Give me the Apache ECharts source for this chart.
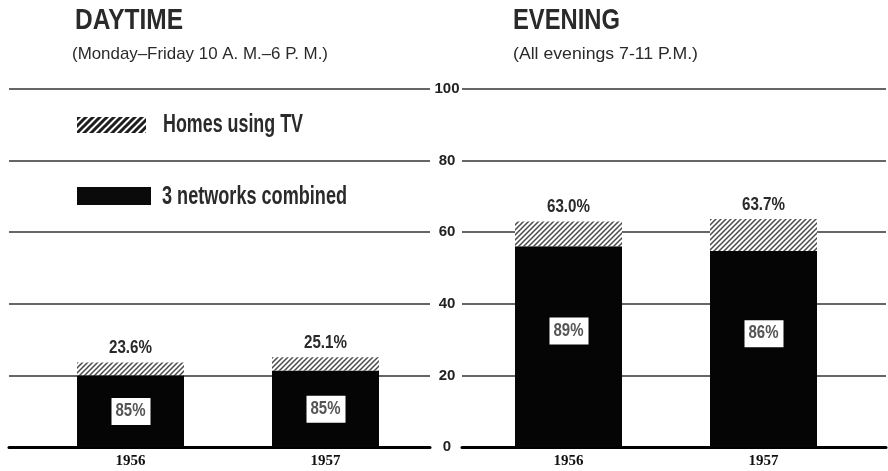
<!DOCTYPE html>
<html>
<head>
<meta charset="utf-8">
<script src="https://cdn.jsdelivr.net/npm/echarts@6/dist/echarts.min.js"></script>
<style>
  html, body { margin: 0; padding: 0; background: #fff; }
  #chart { width: 888px; height: 471px; }
</style>
</head>
<body>
<div id="chart"></div>
<script>
// Share of homes using TV, and the part of that audience tuned to the three networks
const years = ['1956', '1957'];
const dayHomesUsingTV = [23.6, 25.1];
const dayNetworkShare = [85, 85];
const eveHomesUsingTV = [63.0, 63.7];
const eveNetworkShare = [89, 86];
const yTicks = [0, 20, 40, 60, 80, 100];

const SANS = "'Liberation Sans', Arial, sans-serif";
const SERIF = "'Liberation Serif', 'DejaVu Serif', serif";
const INK = '#2a2a2a';

// Diagonal hatch tiles: fine one for the bars, a heavier one for the key
function hatchPattern(size, width, color) {
  const c = document.createElement('canvas');
  c.width = size; c.height = size;
  const g = c.getContext('2d');
  g.fillStyle = '#ffffff';
  g.fillRect(0, 0, size, size);
  g.strokeStyle = color;
  g.lineWidth = width;
  g.beginPath();
  g.moveTo(-1, size + 1); g.lineTo(size + 1, -1);
  g.moveTo(-2, 2); g.lineTo(2, -2);
  g.moveTo(size - 2, size + 2); g.lineTo(size + 2, size - 2);
  g.stroke();
  return { image: c, repeat: 'repeat' };
}
const HATCH = hatchPattern(5, 1.5, '#4a4a4a');
const HATCH_KEY = hatchPattern(7, 3, '#1e1e1e');

// Condensed lettering: squeeze a regular face horizontally to a given width
const measureCtx = document.createElement('canvas').getContext('2d');
function squeezed(text, px, weight, width, x, y, align, fill, stroke) {
  const font = weight + ' ' + px + 'px ' + SANS;
  measureCtx.font = font;
  const w = measureCtx.measureText(text).width;
  const style = { text: text, font: font, fill: fill || INK, align: align || 'left', verticalAlign: 'middle' };
  if (stroke) { style.stroke = fill || INK; style.lineWidth = stroke; }
  return { type: 'text', x: x, y: y, scaleX: width / w, silent: true, z: 20, style: style };
}

const networkPart = (homes, share) => homes.map((h, i) => +(h * share[i] / 100).toFixed(2));
const dayNet = networkPart(dayHomesUsingTV, dayNetworkShare);
const eveNet = networkPart(eveHomesUsingTV, eveNetworkShare);

const TOP = 89, HEIGHT = 358;
const BAR_W = 107;

function yAxisFor(grid, showLines, showLabels) {
  return {
    type: 'value', gridIndex: grid, min: 0, max: 100, interval: 20,
    axisLine: { show: false }, axisTick: { show: false },
    axisLabel: {
      show: showLabels, align: 'center', margin: 15,
      color: '#222', fontFamily: SANS, fontWeight: 'bold', fontSize: 15,
      formatter: v => yTicks.includes(v) ? String(v) : ''
    },
    splitLine: { show: showLines, lineStyle: { color: '#333', width: 1.6 } }
  };
}

function barSeries(grid, net, homes) {
  return [
    {
      name: '3 networks combined', type: 'bar', stack: 's' + grid,
      xAxisIndex: grid, yAxisIndex: grid, barWidth: BAR_W,
      data: net, itemStyle: { color: '#050505' }, z: 3
    },
    {
      name: 'Homes using TV', type: 'bar', stack: 's' + grid,
      xAxisIndex: grid, yAxisIndex: grid, barWidth: BAR_W,
      data: homes.map((h, i) => +(h - net[i]).toFixed(2)),
      itemStyle: { color: HATCH }, z: 3
    }
  ];
}

const yearAxis = grid => ({
  type: 'category', gridIndex: grid, data: years,
  axisLine: { show: false }, axisTick: { show: false },
  axisLabel: { margin: 7, color: '#111', fontFamily: SERIF, fontWeight: 'bold', fontSize: 15 }
});
const ruleAxis = grid => ({
  type: 'value', gridIndex: grid, min: 0, max: 1,
  axisLine: { show: true, lineStyle: { color: '#000', width: 3 } },
  axisTick: { show: false }, axisLabel: { show: false }, splitLine: { show: false }
});

const chart = echarts.init(document.getElementById('chart'), null, { renderer: 'canvas' });
chart.setOption({
  animation: false,
  backgroundColor: '#ffffff',
  grid: [
    { left: 33, width: 390, top: TOP, height: HEIGHT },   // daytime bars
    { left: 471, width: 390, top: TOP, height: HEIGHT },  // evening bars
    { left: 9, width: 421, top: TOP, height: HEIGHT },    // daytime rules
    { left: 462, width: 424, top: TOP, height: HEIGHT }   // evening rules + scale
  ],
  xAxis: [yearAxis(0), yearAxis(1), ruleAxis(2), ruleAxis(3)],
  yAxis: [
    yAxisFor(0, false, false),
    yAxisFor(1, false, false),
    yAxisFor(2, true, false),
    yAxisFor(3, true, true)
  ],
  series: [
    ...barSeries(0, dayNet, dayHomesUsingTV),
    ...barSeries(1, eveNet, eveHomesUsingTV)
  ]
});

// Headings, key and value labels (placed through the axes' own scales)
const g = [
  squeezed('DAYTIME', 30, 'bold', 108, 75, 21),
  squeezed('(Monday–Friday 10 A. M.–6 P. M.)', 17, 'normal', 256, 72, 54, INK, 0.6),
  squeezed('EVENING', 30, 'bold', 107, 513, 21),
  squeezed('(All evenings 7-11 P.M.)', 17, 'normal', 185, 513, 54, INK, 0.6),
  { type: 'rect', shape: { x: 77, y: 117, width: 69, height: 16 }, style: { fill: HATCH_KEY }, silent: true },
  squeezed('Homes using TV', 25, 'bold', 140, 163, 125),
  { type: 'rect', shape: { x: 77, y: 187, width: 74, height: 18 }, style: { fill: '#0a0a0a' }, silent: true },
  squeezed('3 networks combined', 25, 'bold', 185, 162, 197)
];

function panelLabels(grid, homes, net, share, boxFrac) {
  years.forEach((yr, i) => {
    const top = chart.convertToPixel({ gridIndex: grid }, [yr, homes[i]]);
    g.push(squeezed(homes[i].toFixed(1) + '%', 18, 'bold', 43, top[0], top[1] - 14, 'center'));
    const mid = chart.convertToPixel({ gridIndex: grid }, [yr, net[i] * boxFrac]);
    g.push({ type: 'rect', silent: true, z: 19,
      shape: { x: mid[0] - 19, y: mid[1] - 13, width: 39, height: 27 },
      style: { fill: '#ffffff' } });
    g.push(squeezed(share[i] + '%', 19, 'bold', 30, mid[0], mid[1], 'center', '#555'));
  });
}
panelLabels(0, dayHomesUsingTV, dayNet, dayNetworkShare, 0.5);
panelLabels(1, eveHomesUsingTV, eveNet, eveNetworkShare, 0.58);

chart.setOption({ graphic: g });
</script>
</body>
</html>
